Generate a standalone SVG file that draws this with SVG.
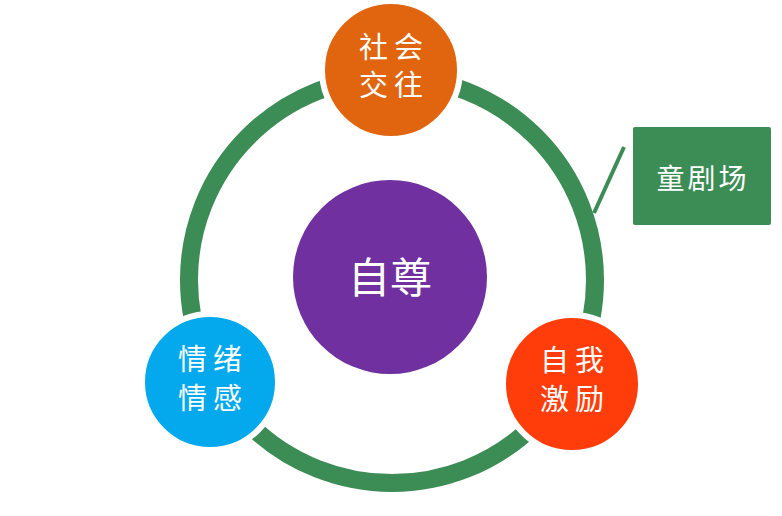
<svg xmlns="http://www.w3.org/2000/svg" width="782" height="516" viewBox="0 0 782 516">
<style>
.n{stroke:#fff;stroke-width:6}
.t{font-family:"Noto Sans CJK SC","Noto Sans CJK JP",sans-serif;fill:#fff;text-anchor:middle}
.s{font-size:29px;letter-spacing:6px}
</style>
<rect width="782" height="516" fill="#fff"/>
<g id="connectors">
<circle cx="392" cy="280" r="203" fill="none" stroke="#3c8c56" stroke-width="18"/>
<line x1="624" y1="147" x2="594" y2="213" stroke="#3c8c56" stroke-width="4"/>
</g>
<g id="center">
<circle cx="390" cy="277" r="97" fill="#7030a0"/>
<text class="t" x="390" y="293" font-size="42">自尊</text>
</g>
<g id="social">
<circle class="n" cx="391" cy="70" r="69" fill="#e0650e"/>
<text class="t s" x="394" y="58">社会</text>
<text class="t s" x="394" y="96">交往</text>
</g>
<g id="emotion">
<circle class="n" cx="210" cy="382" r="68" fill="#03a9ec"/>
<text class="t s" x="213" y="370">情绪</text>
<text class="t s" x="213" y="409">情感</text>
</g>
<g id="motivation">
<circle class="n" cx="572" cy="384" r="69" fill="#ff3d0b"/>
<text class="t s" x="575" y="371">自我</text>
<text class="t s" x="575" y="410">激励</text>
</g>
<g id="theater">
<rect x="633" y="127" width="138" height="98" rx="2" fill="#3c8c56"/>
<text class="t" x="703" y="189" font-size="28" letter-spacing="3">童剧场</text>
</g>
</svg>
